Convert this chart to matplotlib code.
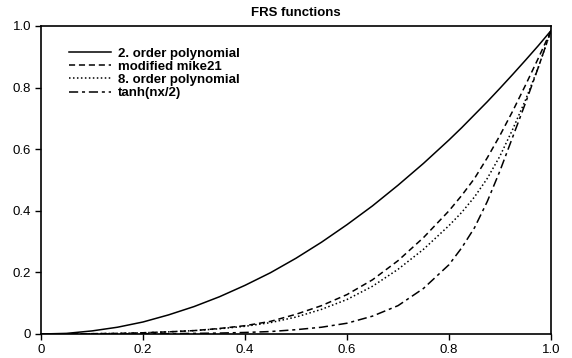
import matplotlib
matplotlib.use("Agg")
import matplotlib.pyplot as plt

plt.rcParams['font.family'] = ['Liberation Sans', 'DejaVu Sans']

x = [0, .05, .1, .15, .2, .25, .3, .35, .4, .45, .5, .55, .6, .65, .7, .75,
     .8, .825, .85, .875, .9, .925, .95, .975, 1.0]

poly2 = [0, 0.002, 0.010, 0.022, 0.039, 0.062, 0.089, 0.121, 0.158, 0.199, 0.246,
         0.298, 0.355, 0.416, 0.483, 0.554,
         0.630, 0.670, 0.712, 0.754, 0.798, 0.843, 0.889, 0.936, 0.985]
mike21 = [0, 0.000, 0.001, 0.002, 0.004, 0.007, 0.011, 0.018, 0.027, 0.041, 0.064,
          0.092, 0.128, 0.176, 0.238, 0.313,
          0.400, 0.450, 0.505, 0.572, 0.645, 0.724, 0.808, 0.895, 0.985]
poly8 = [0, 0.000, 0.001, 0.002, 0.004, 0.007, 0.011, 0.017, 0.025, 0.037, 0.055,
         0.080, 0.112, 0.155, 0.210, 0.275,
         0.352, 0.395, 0.445, 0.505, 0.578, 0.665, 0.760, 0.865, 0.985]
tanh = [0, 0.000, 0.000, 0.000, 0.001, 0.001, 0.002, 0.003, 0.005, 0.008, 0.014,
        0.022, 0.035, 0.058, 0.092, 0.148,
        0.225, 0.280, 0.345, 0.430, 0.530, 0.640, 0.750, 0.865, 0.985]

labels = ["2. order polynomial", "modified mike21", "8. order polynomial", "tanh(nx/2)"]

fig = plt.figure(figsize=(5.72, 3.58), dpi=100)
ax = fig.add_axes([41/572, 24/358, 510/572, 308/358])

ax.plot(x, poly2, color='black', lw=1.1, label=labels[0])
ax.plot(x, mike21, color='black', lw=1.1, dashes=(4, 2.5), label=labels[1])
ax.plot(x, poly8, color='black', lw=1.1, dashes=(1, 1.6), label=labels[2])
ax.plot(x, tanh, color='black', lw=1.1, dashes=(6, 2.5, 2, 2.5), label=labels[3])

ax.set_xlim(0, 1)
ax.set_ylim(0, 1)
ticks = [0, 0.2, 0.4, 0.6, 0.8, 1.0]
ticklabels = ["0", "0.2", "0.4", "0.6", "0.8", "1.0"]
ax.set_xticks(ticks)
ax.set_xticklabels(ticklabels)
ax.set_yticks(ticks)
ax.set_yticklabels(ticklabels)
ax.tick_params(direction='out', length=4, width=1, labelsize=9.5, pad=3)
for s in ax.spines.values():
    s.set_linewidth(1.2)

ax.set_title("FRS functions", fontsize=9.5, fontweight='bold', pad=7)

leg = ax.legend(loc='upper left', bbox_to_anchor=(0.045, 0.948), frameon=False,
                handlelength=3.2, handletextpad=0.5, labelspacing=0.08,
                borderaxespad=0, prop={'weight': 'bold', 'size': 9.5})

fig.savefig("out.png", dpi=100)
